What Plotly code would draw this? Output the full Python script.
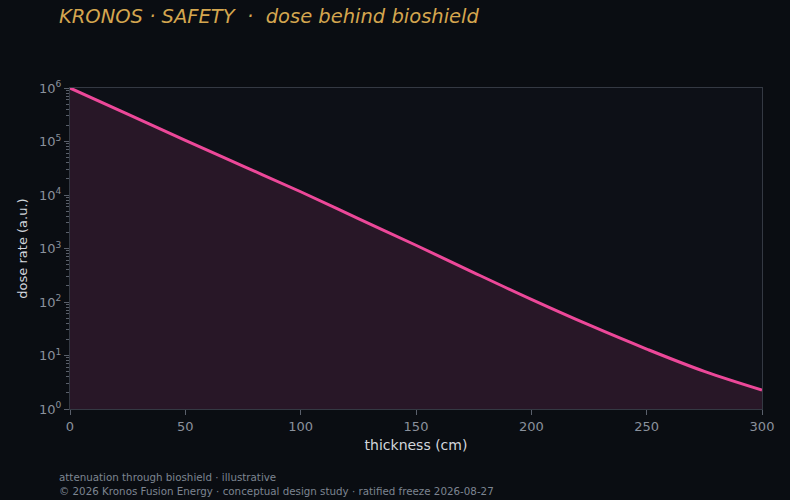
import plotly.graph_objects as go

thickness_cm = [0, 25, 50, 75, 100, 125, 150, 175, 200, 225, 250, 275, 300]
dose_rate = [1.0e6, 3.24e5, 1.05e5, 3.47e4, 1.15e4, 3.63e3, 1.15e3, 355, 112, 37.2, 13.2, 5.05, 2.26]

x_ticks = [0, 50, 100, 150, 200, 250, 300]
y_ticks = [1, 10, 100, 1000, 1e4, 1e5, 1e6]
y_ticktext = ["10<sup>0</sup>", "10<sup>1</sup>", "10<sup>2</sup>", "10<sup>3</sup>",
              "10<sup>4</sup>", "10<sup>5</sup>", "10<sup>6</sup>"]
y_minor = [m * d for d in [1, 10, 100, 1000, 1e4, 1e5] for m in range(2, 10)]

PAPER = "#0a0d12"
PLOT = "#0d1017"
PINK = "#ec4899"
GOLD = "#d4a64f"
TICK = "#8a919c"
LABEL = "#d2d6dc"
LINE = "#343943"
TICKC = "#5a606b"
FONT = "DejaVu Sans"

W, H = 790, 500
ML, MR, MT, MB = 70, 28, 88, 91
plot_h = H - MT - MB

def py(pix):
    return (H - MB - pix) / plot_h

def px(pix):
    return (pix - ML) / (W - ML - MR)

fig = go.Figure()
fig.add_trace(go.Scatter(
    x=[thickness_cm[0], thickness_cm[-1]], y=[1, 1],
    mode="lines", line=dict(width=0, color="rgba(0,0,0,0)"),
    hoverinfo="skip", showlegend=False))
fig.add_trace(go.Scatter(
    x=thickness_cm, y=dose_rate, mode="lines",
    line=dict(color=PINK, width=3, shape="spline", smoothing=1.0),
    fill="tonexty", fillcolor="rgba(236,72,153,0.12)",
    showlegend=False))
# invisible trace to carry the minor-tick axis
fig.add_trace(go.Scatter(
    x=[thickness_cm[0]], y=[dose_rate[0]], yaxis="y2", mode="markers",
    marker=dict(opacity=0), hoverinfo="skip", showlegend=False))

fig.update_layout(
    width=W, height=H,
    paper_bgcolor=PAPER, plot_bgcolor=PLOT,
    margin=dict(l=ML, r=MR, t=MT, b=MB),
    font=dict(family=FONT, color=TICK, size=13),
    title=dict(text="<i>KRONOS · SAFETY  ·  dose behind bioshield</i>",
               x=59 / W, xanchor="left", xref="container",
               y=1 - 16 / H, yanchor="middle", yref="container",
               font=dict(family=FONT, size=19.5, color=GOLD)),
    xaxis=dict(range=[0, 300], tickvals=x_ticks, ticks="outside", ticklen=5,
               tickcolor=TICKC, showline=True, linecolor=LINE, mirror=True,
               showgrid=False, zeroline=False,
               tickfont=dict(size=13, color=TICK),
               title=dict(text="thickness (cm)", font=dict(size=14, color=LABEL), standoff=7)),
    yaxis=dict(type="log", range=[0, 6], tickvals=y_ticks, ticktext=y_ticktext,
               ticks="outside", ticklen=5, tickcolor=TICKC,
               showline=True, linecolor=LINE, mirror=True,
               showgrid=False, zeroline=False,
               tickfont=dict(size=13, color=TICK),
               title=dict(text="dose rate (a.u.)", font=dict(size=13, color=LABEL), standoff=8)),
    yaxis2=dict(type="log", range=[0, 6], overlaying="y", side="left",
                tickvals=y_minor, showticklabels=False,
                ticks="outside", ticklen=3, tickcolor=TICKC,
                showline=False, showgrid=False, zeroline=False),
)

fig.add_annotation(text="attenuation through bioshield · illustrative",
                   xref="paper", yref="paper", x=px(57), y=py(477),
                   xanchor="left", yanchor="middle", showarrow=False,
                   font=dict(family=FONT, size=10.3, color="#7d8591"))
fig.add_annotation(text="© 2026 Kronos Fusion Energy · conceptual design study · ratified freeze 2026-08-27",
                   xref="paper", yref="paper", x=px(57), y=py(491),
                   xanchor="left", yanchor="middle", showarrow=False,
                   font=dict(family=FONT, size=10.3, color="#7d8591"))

fig.write_html("out.html", config={"displayModeBar": False},
               post_script="document.body.style.margin='0';document.body.style.background='#0a0d12';document.body.style.overflow='hidden';")
